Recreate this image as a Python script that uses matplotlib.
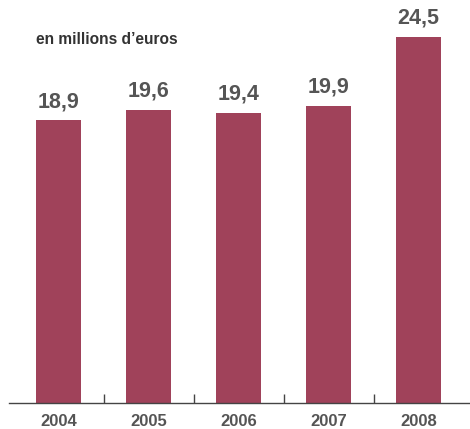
import matplotlib
matplotlib.use("Agg")
import matplotlib.pyplot as plt
from matplotlib.ticker import FixedLocator, NullLocator

years = ["2004", "2005", "2006", "2007", "2008"]
values = [18.9, 19.6, 19.4, 19.9, 24.5]
value_labels = ["18,9", "19,6", "19,4", "19,9", "24,5"]
unit_label = "en millions d\u2019euros"

bar_color = "#A0425A"
text_color = "#555555"
axis_color = "#444444"

plt.rcParams["font.family"] = ["Liberation Sans", "DejaVu Sans"]

W, H = 470, 429
fig = plt.figure(figsize=(W / 100, H / 100), dpi=100)
base_px = 402.7
ax = fig.add_axes([9 / W, (H - base_px) / H, 461 / W, base_px / H])

x = list(range(len(years)))
ax.bar(x, values, width=0.5, color=bar_color, zorder=2)

ax.set_xlim(-0.55, 4.572)
ax.set_ylim(0, 26.97)

for s in ["top", "right", "left"]:
    ax.spines[s].set_visible(False)
ax.spines["bottom"].set_color(axis_color)
ax.spines["bottom"].set_linewidth(1.0)

ax.yaxis.set_major_locator(NullLocator())
ax.xaxis.set_major_locator(FixedLocator([i + 0.5 for i in x[:-1]]))
ax.tick_params(axis="x", direction="in", length=6.5, width=1.0,
               color=axis_color, labelbottom=False)

for xi, v, lab in zip(x, values, value_labels):
    ax.annotate(lab, (xi, v), xytext=(0, 6), textcoords="offset points",
                ha="center", va="bottom", fontsize=15.5, fontweight="bold",
                color=text_color)

for xi, yr in zip(x, years):
    ax.annotate(yr, (xi, 0), xytext=(0, -13.5), textcoords="offset points",
                ha="center", va="center", fontsize=12, fontweight="bold",
                color=text_color, annotation_clip=False)

fig.text(36 / W, 1 - 40 / H, unit_label, ha="left", va="center",
         fontsize=11.2, fontweight="bold", color="#333333")

fig.savefig("out.png", dpi=100)
